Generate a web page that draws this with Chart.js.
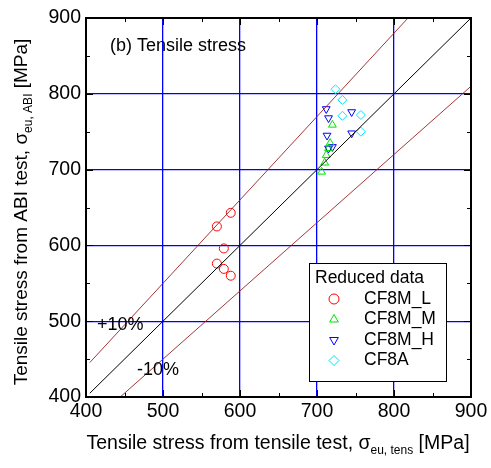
<!DOCTYPE html>
<html>
<head>
<meta charset="utf-8">
<script src="https://cdn.jsdelivr.net/npm/chart.js@4"></script>
<style>
  html, body { margin: 0; padding: 0; background: #fff; }
  #wrap { width: 491px; height: 468px; }
</style>
</head>
<body>
<div id="wrap"><canvas id="chart" width="491" height="468"></canvas></div>
<script>
const FONT = "'Liberation Sans', Arial, sans-serif";

// values (MPa)
const cf8mL_x = [570, 588, 579, 570, 579, 588];
const cf8mL_y = [625, 643, 596, 576, 569, 560];

const cf8mM_x = [706, 710, 712, 715, 717, 720];
const cf8mM_y = [697, 709, 719, 728, 735, 759];

const cf8mH_x = [712, 715, 713, 715, 720, 745, 745];
const cf8mH_y = [780, 768, 745, 728, 730, 776, 748];

const cf8a_x = [724, 733, 733, 757, 757];
const cf8a_y = [806, 792, 771, 772, 750];

const axisTicks = [400, 500, 600, 700, 800, 900];
const minorTicks = [450, 550, 650, 750, 850];
const refRatios = [1.0, 1.1, 0.9];      // 1:1, +10%, -10%
const refRange = [405, 900];

const legendNames = ["CF8M_L", "CF8M_M", "CF8M_H", "CF8A"];

function pts(xs, ys) {
  return xs.map((x, i) => ({ x: x, y: ys[i] }));
}

function refLine(r) {
  return refRange.map(x => ({ x: x, y: x * r }));
}

const markerStyles = [
  { color: "#ff0000", style: "circle", rot: 0 },
  { color: "#00e000", style: "triangle", rot: 0 },
  { color: "#0000ff", style: "triangle", rot: 180 },
  { color: "#00e5ff", style: "rectRot", rot: 0 }
];

const series = [pts(cf8mL_x, cf8mL_y), pts(cf8mM_x, cf8mM_y), pts(cf8mH_x, cf8mH_y), pts(cf8a_x, cf8a_y)];

const datasets = [
  { data: refLine(refRatios[0]), showLine: true, borderColor: "#000", borderWidth: 1, pointRadius: 0 },
  { data: refLine(refRatios[1]), showLine: true, borderColor: "#9a2020", borderWidth: 0.9, pointRadius: 0 },
  { data: refLine(refRatios[2]), showLine: true, borderColor: "#9a2020", borderWidth: 0.9, pointRadius: 0 }
];
series.forEach((d, i) => {
  const m = markerStyles[i];
  datasets.push({
    label: legendNames[i],
    data: d,
    showLine: false,
    pointStyle: m.style,
    rotation: m.rot,
    pointRadius: 4.5,
    pointBorderWidth: 1,
    borderColor: m.color,
    backgroundColor: "rgba(0,0,0,0)",
    pointBackgroundColor: "rgba(0,0,0,0)"
  });
});

function drawSubTitle(ctx, parts, x, y, big, small) {
  // parts: [text, isSub]
  let w = 0;
  parts.forEach(p => {
    ctx.font = (p[1] ? small : big) + "px " + FONT;
    w += ctx.measureText(p[0]).width;
  });
  let cx = x - w / 2;
  parts.forEach(p => {
    ctx.font = (p[1] ? small : big) + "px " + FONT;
    ctx.fillText(p[0], cx, p[1] ? y + 5 : y);
    cx += ctx.measureText(p[0]).width;
  });
}

const overlay = {
  id: "overlay",
  afterDraw(chart) {
    const ctx = chart.ctx;
    const a = chart.chartArea;
    const xs = chart.scales.x, ys = chart.scales.y;
    ctx.save();

    // inward ticks on all sides
    ctx.strokeStyle = "#000";
    ctx.lineWidth = 1;
    ctx.beginPath();
    axisTicks.concat(minorTicks).forEach(v => {
      const len = minorTicks.includes(v) ? 4 : 7;
      const px = Math.round(xs.getPixelForValue(v)) + 0.5;
      const py = Math.round(ys.getPixelForValue(v)) + 0.5;
      ctx.moveTo(px, a.bottom); ctx.lineTo(px, a.bottom - len);
      ctx.moveTo(px, a.top); ctx.lineTo(px, a.top + len);
      ctx.moveTo(a.left, py); ctx.lineTo(a.left + len, py);
      ctx.moveTo(a.right, py); ctx.lineTo(a.right - len, py);
    });
    ctx.stroke();

    // frame
    ctx.lineWidth = 2;
    ctx.strokeRect(a.left, a.top, a.right - a.left, a.bottom - a.top);

    // annotations
    ctx.fillStyle = "#000";
    ctx.textBaseline = "middle";
    ctx.textAlign = "left";
    ctx.font = "18px " + FONT;
    ctx.fillText("(b) Tensile stress", 110, 46);
    ctx.fillText("+10%", 97, 325);
    ctx.fillText("-10%", 137, 370);

    // legend
    const lx = 309, ly = 263, lw = 137, lh = 118;
    ctx.fillStyle = "#fff";
    ctx.fillRect(lx, ly, lw, lh);
    ctx.lineWidth = 1;
    ctx.strokeStyle = "#000";
    ctx.strokeRect(lx + 0.5, ly + 0.5, lw, lh);
    ctx.fillStyle = "#000";
    ctx.font = "17.5px " + FONT;
    ctx.fillText("Reduced data", 315, 278);
    legendNames.forEach((name, i) => {
      const yy = 299 + i * 20.5;
      const m = markerStyles[i];
      ctx.strokeStyle = m.color;
      ctx.fillStyle = "rgba(0,0,0,0)";
      ctx.lineWidth = 1;
      Chart.helpers.drawPoint(ctx, { pointStyle: m.style, rotation: m.rot, radius: 5, borderWidth: 1 }, 334, yy);
      ctx.fillStyle = "#000";
      ctx.fillText(name, 364, yy);
    });

    // axis titles with subscripts
    ctx.textAlign = "left";
    ctx.textBaseline = "alphabetic";
    drawSubTitle(ctx, [["Tensile stress from tensile test, \u03c3", false], ["eu, tens", true], [" [MPa]", false]], 278, 449, 19.5, 12);
    ctx.translate(27, 212);
    ctx.rotate(-Math.PI / 2);
    drawSubTitle(ctx, [["Tensile stress from ABI test, \u03c3", false], ["eu, ABI", true], [" [MPa]", false]], 0, 0, 19, 12);
    ctx.restore();
  }
};

const gridColor = c => (c.tick.value > 400 && c.tick.value < 900) ? "#0000ff" : "rgba(0,0,0,0)";

new Chart(document.getElementById("chart"), {
  type: "scatter",
  data: { datasets: datasets },
  options: {
    responsive: false,
    animation: false,
    layout: { padding: { left: 0, top: 18, right: 20, bottom: 0 } },
    plugins: { legend: { display: false }, tooltip: { enabled: false } },
    scales: {
      x: {
        min: 400, max: 900,
        afterFit: s => { s.height = 71; },
        afterBuildTicks: s => { s.ticks = axisTicks.map(v => ({ value: v })); },
        grid: { color: gridColor, lineWidth: 1.3, drawTicks: false },
        border: { display: false },
        ticks: { color: "#000", font: { family: FONT, size: 19.5 }, padding: 3, maxRotation: 0 }
      },
      y: {
        min: 400, max: 900,
        afterFit: s => { s.width = 86; },
        afterBuildTicks: s => { s.ticks = axisTicks.map(v => ({ value: v })); },
        grid: { color: gridColor, lineWidth: 1.3, drawTicks: false },
        border: { display: false },
        ticks: { color: "#000", font: { family: FONT, size: 19.5 }, padding: 5 }
      }
    }
  },
  plugins: [overlay]
});
</script>
</body>
</html>
